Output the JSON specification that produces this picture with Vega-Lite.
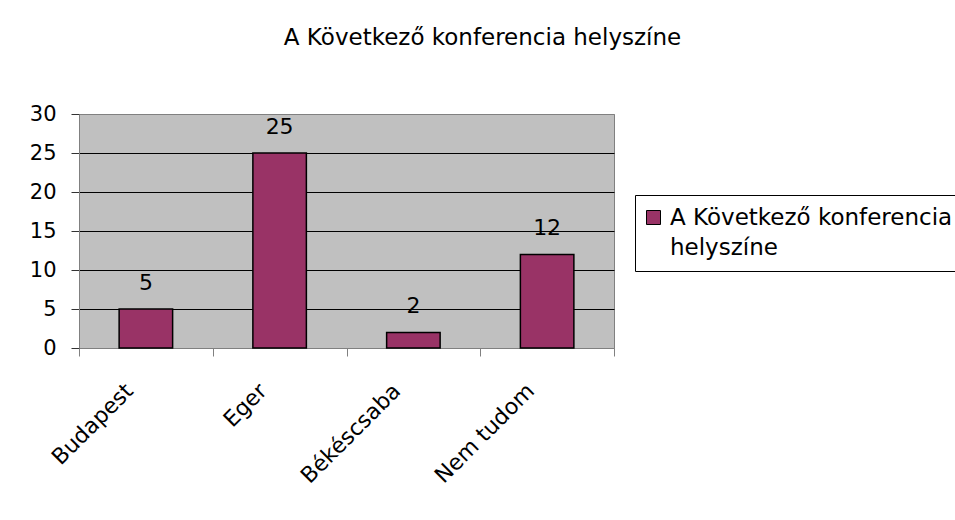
{
  "$schema": "https://vega.github.io/schema/vega-lite/v6.json",
  "width": 535,
  "height": 234,
  "autosize": "none",
  "padding": {"left": 79, "top": 114, "right": 341, "bottom": 172},
  "background": "white",
  "title": {
    "text": "A Következő konferencia helyszíne",
    "fontSize": 23,
    "font": "DejaVu Sans",
    "fontWeight": "normal",
    "color": "black",
    "anchor": "middle",
    "frame": "group",
    "baseline": "alphabetic",
    "dx": 136,
    "offset": 35
  },
  "data": {
    "values": [
      {"hely": "Budapest", "db": 5, "sorozat": "A Következő konferencia helyszíne"},
      {"hely": "Eger", "db": 25, "sorozat": "A Következő konferencia helyszíne"},
      {"hely": "Békéscsaba", "db": 2, "sorozat": "A Következő konferencia helyszíne"},
      {"hely": "Nem tudom", "db": 12, "sorozat": "A Következő konferencia helyszíne"}
    ]
  },
  "encoding": {
    "x": {
      "field": "hely",
      "type": "nominal",
      "sort": null,
      "scale": {"paddingInner": 0, "paddingOuter": 0},
      "axis": {
        "title": null,
        "labelAngle": -45,
        "labelAlign": "right",
        "labelBaseline": "middle",
        "labelFontSize": 22,
        "labelFont": "DejaVu Sans",
        "labelColor": "black",
        "labelPadding": 31,
        "labelOffset": -17,
        "tickBand": "extent",
        "tickSize": 8,
        "tickColor": "#808080",
        "domainColor": "#808080",
        "grid": false
      }
    },
    "y": {
      "field": "db",
      "type": "quantitative",
      "scale": {"domain": [0, 30], "nice": false},
      "axis": {
        "title": null,
        "values": [0, 5, 10, 15, 20, 25, 30],
        "labelFontSize": 21,
        "labelFont": "DejaVu Sans",
        "labelColor": "black",
        "labelPadding": 15,
        "tickSize": 8,
        "tickColor": "#333333",
        "domainColor": "#808080",
        "grid": true,
        "gridOpacity": 1,
        "gridColor": {"condition": {"test": "datum.value == 0 || datum.value == 30", "value": "#808080"}, "value": "black"}
      }
    }
  },
  "layer": [
    {
      "mark": {"type": "bar", "width": {"band": 0.4}, "stroke": "black", "strokeWidth": 1.5},
      "encoding": {
        "color": {
          "field": "sorozat",
          "type": "nominal",
          "scale": {"range": ["#993366"]},
          "legend": {
            "title": null,
            "orient": "none",
            "legendX": 556,
            "legendY": 81,
            "strokeColor": "black",
            "fillColor": "white",
            "padding": 11,
            "labelFontSize": 23,
            "labelFont": "DejaVu Sans",
            "labelColor": "black",
            "labelLimit": 400,
            "labelOffset": 5,
            "symbolOffset": -4,
            "symbolType": "square",
            "symbolSize": 196,
            "symbolStrokeColor": "black",
            "symbolStrokeWidth": 1,
            "symbolOpacity": 1,
            "labelExpr": "['A Következő konferencia', 'helyszíne']",
            "encode": {"labels": {"update": {"lineHeight": {"value": 30}}}}
          }
        }
      }
    },
    {
      "mark": {"type": "text", "dy": -19, "baseline": "alphabetic", "fontSize": 22, "font": "DejaVu Sans", "color": "black"},
      "encoding": {"text": {"field": "db", "type": "quantitative"}}
    }
  ],
  "config": {
    "view": {"fill": "#C0C0C0", "stroke": "#808080"}
  }
}
